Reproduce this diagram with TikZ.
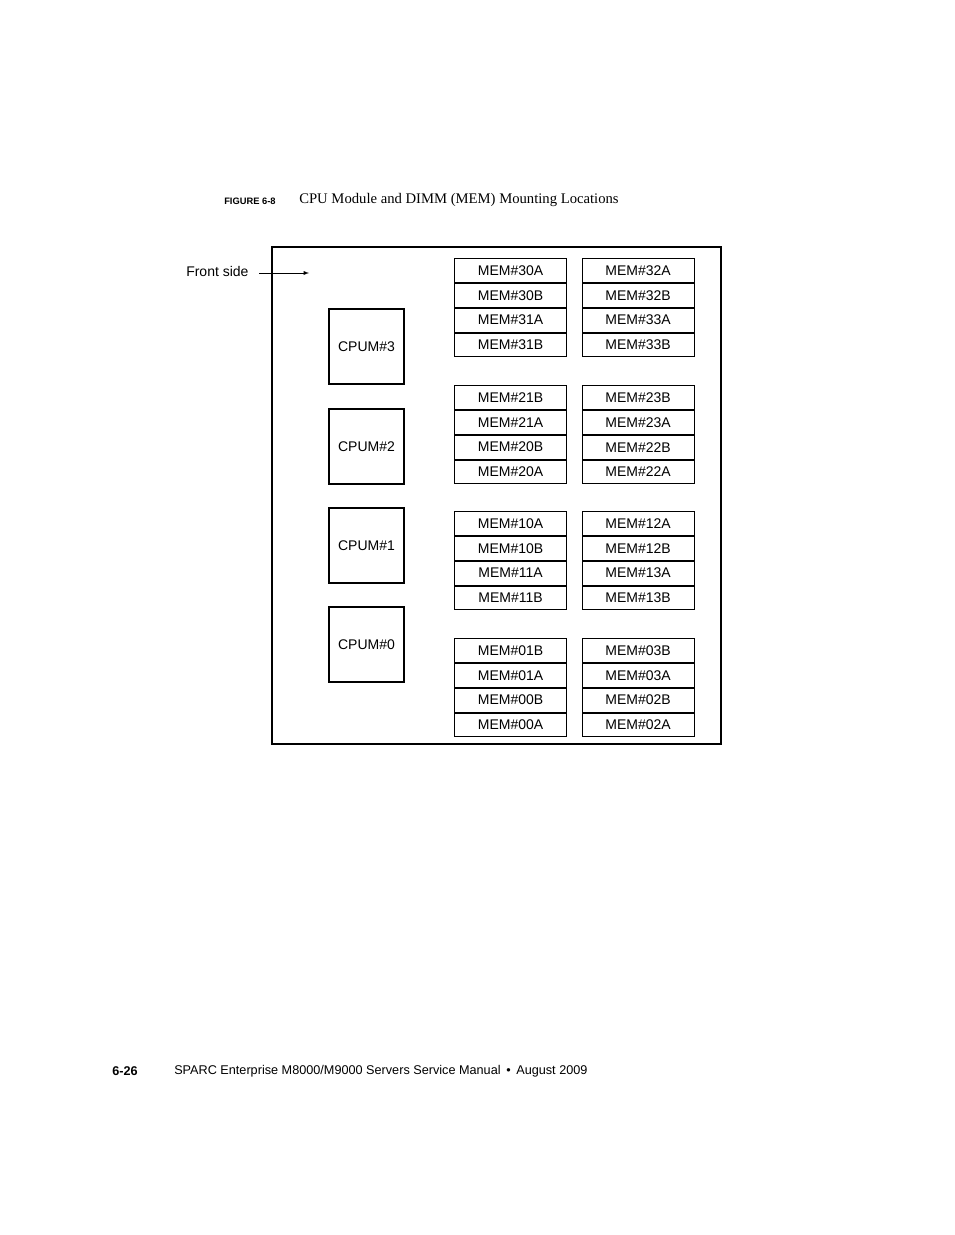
\documentclass[tikz,border=0pt]{standalone}
\usepackage{fontspec}
\setmainfont{Liberation Sans}
\newfontfamily\capfont{Liberation Serif}
\usetikzlibrary{positioning}
\tikzset{
    cpubox/.style={draw,thick,minimum width=75*0.75pt,minimum height=75*0.75pt,inner sep=0pt,font=\fontsize{10.5}{12}\selectfont},
    membox/.style={draw,thick,minimum width=112*0.75pt,minimum height=23.8*0.75pt,inner sep=0pt,font=\fontsize{10.5}{12}\selectfont},
}
\begin{document}
\begin{tikzpicture}[x=0.75pt,y=-0.75pt]
    \useasboundingbox (0,0) rectangle (954,1235);

    % caption
    \node[anchor=west,inner sep=0pt,font=\bfseries\fontsize{7}{8}\selectfont] (figno) at (224,201) {FIGURE 6-8};
    \node[anchor=west,inner sep=0pt,font=\capfont\fontsize{11}{13}\selectfont] (figcap) at (299,200) {CPU Module and DIMM (MEM) Mounting Locations};

    % outer frame
    \draw[thick] (272,247) rectangle (721,744);

    % front side marker
    \node[anchor=west,inner sep=0pt,font=\fontsize{10.5}{12}\selectfont] (front) at (186,271) {Front side};
    \coordinate (fronttip) at (309,273);
    \draw[-latex] (259,273) -- (fronttip);

    % CPU modules
    \foreach \n/\y in {3/346.5,2/446.5,1/545.5,0/644.5}
        \node[cpubox] (cpum\n) at (366.5,\y) {CPUM\#\n};

    % memory slots
    \foreach \g/\y/\la/\lb/\lc/\ld/\ra/\rb/\rc/\rd in {
        3/258/30A/30B/31A/31B/32A/32B/33A/33B,
        2/385/21B/21A/20B/20A/23B/23A/22B/22A,
        1/511/10A/10B/11A/11B/12A/12B/13A/13B,
        0/638/01B/01A/00B/00A/03B/03A/02B/02A}{
        \node[membox,anchor=north west] (mem\la) at (454,\y) {MEM\#\la};
        \node[membox,below=0pt of mem\la] (mem\lb) {MEM\#\lb};
        \node[membox,below=0pt of mem\lb] (mem\lc) {MEM\#\lc};
        \node[membox,below=0pt of mem\lc] (mem\ld) {MEM\#\ld};
        \node[membox,anchor=north west] (mem\ra) at (581.5,\y) {MEM\#\ra};
        \node[membox,below=0pt of mem\ra] (mem\rb) {MEM\#\rb};
        \node[membox,below=0pt of mem\rb] (mem\rc) {MEM\#\rc};
        \node[membox,below=0pt of mem\rc] (mem\rd) {MEM\#\rd};
    }

    % footer
    \node[anchor=west,inner sep=0pt,font=\bfseries\fontsize{9.5}{11}\selectfont] (pageno) at (112,1071) {6-26};
    \node[anchor=west,inner sep=0pt,font=\fontsize{9.5}{11}\selectfont] (footer) at (174,1071) {SPARC Enterprise M8000/M9000 Servers Service Manual \,•\, August 2009};
\end{tikzpicture}
\end{document}
